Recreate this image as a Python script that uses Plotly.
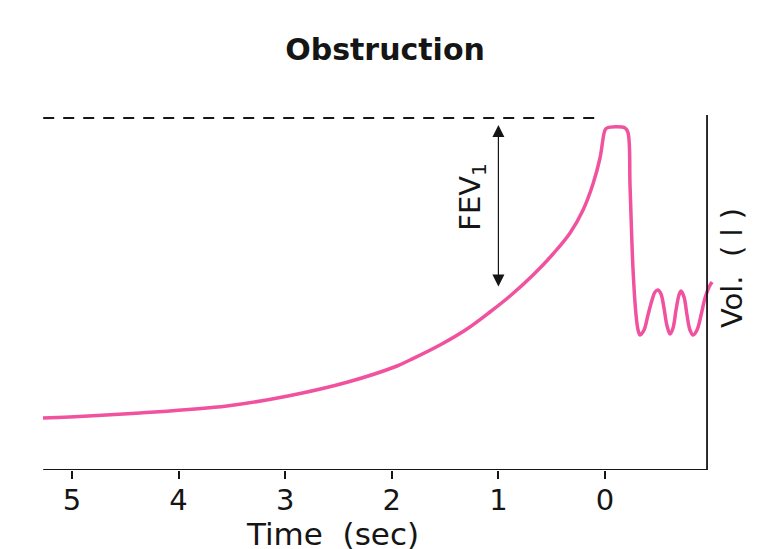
import plotly.graph_objects as go

NB = "\u00a0"

# ---- data (time in seconds before end of expiration, volume in litre-like units) ----
curve_time = [5.272, 5.019, 4.362, 3.546, 2.974, 2.411, 1.951, 1.829, 1.548, 1.295, 1.079,
              0.891, 0.675, 0.488, 0.328, 0.206, 0.113, 0.047, 0.000, -0.019, -0.188, -0.216,
              -0.235, -0.263, -0.291, -0.310,
              -0.328, -0.366, -0.403, -0.441, -0.469, -0.497, -0.525, -0.553, -0.582, -0.610,
              -0.638, -0.666, -0.694, -0.713, -0.741, -0.769, -0.797, -0.826, -0.863, -0.901,
              -0.938, -0.976, -1.004]
curve_volume = [0.52, 0.53, 0.57, 0.64, 0.74, 0.88, 1.04, 1.10, 1.25, 1.41, 1.58,
                1.74, 1.95, 2.16, 2.37, 2.60, 2.86, 3.12, 3.40, 3.42, 3.42, 3.37,
                2.83, 2.00, 1.55, 1.40,
                1.35, 1.40, 1.55, 1.70, 1.78, 1.80, 1.76, 1.62, 1.44, 1.36,
                1.42, 1.60, 1.75, 1.79, 1.73, 1.55, 1.40, 1.35, 1.40, 1.55,
                1.72, 1.83, 1.88]

fvc_level_time = [5.27, 0.06]
fvc_level_volume = [3.52, 3.52]

fev1_time = 1.0
fev1_top = 3.45
fev1_bottom = 1.82

tick_values = [5, 4, 3, 2, 1, 0]
tick_labels = ["5", "4", "3", "2", "1", "0"]

axis_left_time = 5.27
axis_right_time = -0.957
axis_top_volume = 3.55

x_range = [5.30, -1.041]
y_range = [0, 3.7]

PINK = "#f0529f"
INK = "#151515"
FONT = "DejaVu Sans"

fig = go.Figure()

# dashed FVC level line
fig.add_trace(go.Scatter(x=fvc_level_time, y=fvc_level_volume, mode="lines",
                         line=dict(color=INK, width=1.8, dash="11px,9px"),
                         hoverinfo="skip", showlegend=False))

# spirogram trace
fig.add_trace(go.Scatter(x=curve_time, y=curve_volume, mode="lines",
                         line=dict(color=PINK, width=3.5, shape="spline", smoothing=1.0),
                         showlegend=False))

# axis lines (bottom + right vertical)
fig.add_shape(type="line", xref="x", yref="y", x0=axis_left_time, x1=axis_right_time, y0=0, y1=0,
              line=dict(color=INK, width=2))
fig.add_shape(type="line", xref="x", yref="y", x0=axis_right_time, x1=axis_right_time, y0=0,
              y1=axis_top_volume, line=dict(color=INK, width=1.8))

# FEV1 double-headed arrow
fig.add_annotation(x=fev1_time, y=fev1_top, ax=fev1_time, ay=fev1_bottom, xref="x", yref="y",
                   axref="x", ayref="y", text="", showarrow=True, arrowhead=2, startarrowhead=2,
                   arrowside="end+start", arrowsize=2.0, startarrowsize=2.0, arrowwidth=1.2,
                   arrowcolor=INK)
fig.add_annotation(x=1.25, y=2.73, xref="x", yref="y", text="FEV<sub>1</sub>", textangle=-90,
                   showarrow=False, xanchor="center", yanchor="middle",
                   font=dict(family=FONT, size=29, color=INK))

# Vol. label on the right
fig.add_annotation(x=1.0237, y=2.02, xref="paper", yref="y",
                   text="Vol." + NB * 2 + "(" + NB + "l" + NB + ")", textangle=-90,
                   showarrow=False, xanchor="center", yanchor="middle",
                   font=dict(family=FONT, size=29, color=INK))

# Time label
fig.add_annotation(x=0.4334, y=-0.174, xref="paper", yref="paper",
                   text="Time" + NB * 2 + "(sec)",
                   showarrow=False, xanchor="center", yanchor="middle",
                   font=dict(family=FONT, size=31, color=INK))

fig.update_layout(
    width=771, height=541,
    margin=dict(l=32, r=63, t=92, b=79),
    paper_bgcolor="white", plot_bgcolor="white",
    title=dict(text="<b>Obstruction</b>", x=0.489, xanchor="center", y=0.924, yanchor="middle",
               xref="container", yref="container",
               font=dict(family=FONT, size=30, color=INK)),
    xaxis=dict(range=x_range, tickvals=tick_values, ticktext=tick_labels, ticks="outside",
               ticklen=8, tickwidth=2, tickcolor=INK, showline=False, showgrid=False,
               zeroline=False, ticklabelstandoff=-4,
               tickfont=dict(family=FONT, size=29, color=INK)),
    yaxis=dict(range=y_range, visible=False, showgrid=False, zeroline=False),
)

fig.write_html("out.html")
